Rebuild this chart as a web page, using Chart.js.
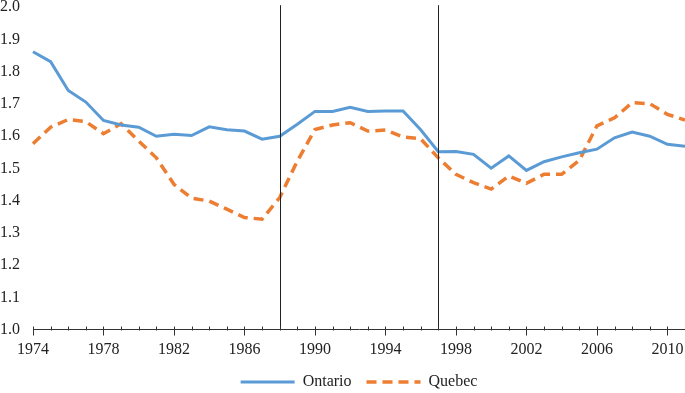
<!DOCTYPE html>
<html>
<head>
<meta charset="utf-8">
<script src="https://cdn.jsdelivr.net/npm/chart.js@4/dist/chart.umd.min.js"></script>
<style>
  html, body { margin: 0; padding: 0; background: #fff; }
  #wrap { width: 685px; height: 393px; }
</style>
</head>
<body>
<div id="wrap"><canvas id="fertility"></canvas></div>
<script>
// years on the x axis, one point per year
const years = [
  1974, 1975, 1976, 1977, 1978, 1979, 1980, 1981, 1982, 1983,
  1984, 1985, 1986, 1987, 1988, 1989, 1990, 1991, 1992, 1993,
  1994, 1995, 1996, 1997, 1998, 1999, 2000, 2001, 2002, 2003,
  2004, 2005, 2006, 2007, 2008, 2009, 2010, 2011
];

const ontario = [
  1.862, 1.831, 1.742, 1.706, 1.649, 1.635, 1.628, 1.600, 1.606, 1.602,
  1.629, 1.620, 1.616, 1.591, 1.600, 1.637, 1.677, 1.677, 1.690, 1.677,
  1.678, 1.678, 1.620, 1.552, 1.553, 1.544, 1.501, 1.539, 1.494, 1.521,
  1.536, 1.549, 1.560, 1.595, 1.613, 1.600, 1.575, 1.569
];

const quebec = [
  1.577, 1.628, 1.652, 1.645, 1.608, 1.639, 1.585, 1.533, 1.451, 1.408,
  1.399, 1.374, 1.348, 1.343, 1.410, 1.523, 1.621, 1.635, 1.642, 1.616,
  1.619, 1.598, 1.592, 1.533, 1.482, 1.456, 1.436, 1.477, 1.454, 1.482,
  1.482, 1.525, 1.632, 1.657, 1.704, 1.701, 1.668, 1.650
];

// labelled every fourth year
const shownYears = ['1974', '1978', '1982', '1986', '1990', '1994', '1998', '2002', '2006', '2010'];
// years marked with a vertical line
const markerYears = ['1988', '1997'];

const labels = years.map(String);
const noColor = 'rgba(0,0,0,0)';

// vertical marker lines + year ticks on the x axis
const extras = {
  id: 'extras',
  afterDatasetsDraw(chart) {
    const { ctx, chartArea, scales } = chart;
    const x = scales.x;
    ctx.save();
    ctx.strokeStyle = '#222';
    ctx.lineWidth = 1;
    markerYears.forEach(yr => {
      const px = Math.round(x.getPixelForValue(labels.indexOf(yr))) + 0.5;
      ctx.beginPath();
      ctx.moveTo(px, chartArea.top - 2);
      ctx.lineTo(px, chartArea.bottom);
      ctx.stroke();
    });
    ctx.strokeStyle = '#333';
    const base = Math.round(chartArea.bottom) + 0.5;
    labels.forEach((yr, i) => {
      const px = Math.round(x.getPixelForValue(i)) + 0.5;
      const major = shownYears.includes(yr);
      ctx.beginPath();
      ctx.moveTo(px, base - 4);
      ctx.lineTo(px, major ? base + 5 : base);
      ctx.stroke();
    });
    ctx.restore();
  }
};

Chart.defaults.font.family = '"Liberation Serif", "Times New Roman", serif';
Chart.defaults.font.size = 16;
Chart.defaults.color = '#222';

new Chart(document.getElementById('fertility'), {
  type: 'line',
  data: {
    labels: labels,
    datasets: [
      {
        label: 'Ontario',
        data: ontario,
        borderColor: '#5B9BD5',
        backgroundColor: '#5B9BD5',
        borderWidth: 3,
        pointRadius: 0,
        tension: 0,
      },
      {
        label: 'Quebec',
        data: quebec,
        borderColor: '#ED7D31',
        backgroundColor: '#ED7D31',
        borderWidth: 3.5,
        borderDash: [10, 6],
        pointRadius: 0,
        tension: 0,
      },
    ],
  },
  options: {
    responsive: true,
    maintainAspectRatio: false,
    animation: false,
    layout: { padding: { top: 0, right: 0, bottom: -7, left: 0 } },
    plugins: {
      tooltip: { enabled: false },
      legend: {
        position: 'bottom',
        fullSize: false,
        labels: {
          usePointStyle: true,
          pointStyleWidth: 54,
          padding: 15,
          color: '#222',
          generateLabels: chart => chart.data.datasets.map((ds, i) => ({
            text: ds.label,
            datasetIndex: i,
            hidden: false,
            pointStyle: 'line',
            fillStyle: ds.borderColor,
            strokeStyle: ds.borderColor,
            lineWidth: ds.borderWidth,
            lineDash: ds.borderDash || [],
            lineCap: 'butt',
            fontColor: '#222',
          })),
        },
      },
    },
    scales: {
      x: {
        offset: false,
        grid: { display: true, drawOnChartArea: false, drawTicks: true, tickLength: 10, color: noColor },
        border: { display: true, color: '#333', width: 1 },
        ticks: {
          autoSkip: false,
          maxRotation: 0,
          padding: 0,
          callback: function (value) {
            const yr = this.getLabelForValue(value);
            return shownYears.includes(yr) ? yr : '';
          },
        },
      },
      y: {
        min: 1.0,
        max: 2.0,
        grid: { display: true, drawOnChartArea: false, drawTicks: true, tickLength: 13, color: noColor },
        border: { display: false },
        ticks: {
          stepSize: 0.1,
          padding: 0,
          font: { lineHeight: 0.9 },
          callback: v => Number(v).toFixed(1),
        },
      },
    },
  },
  plugins: [extras],
});
</script>
</body>
</html>
